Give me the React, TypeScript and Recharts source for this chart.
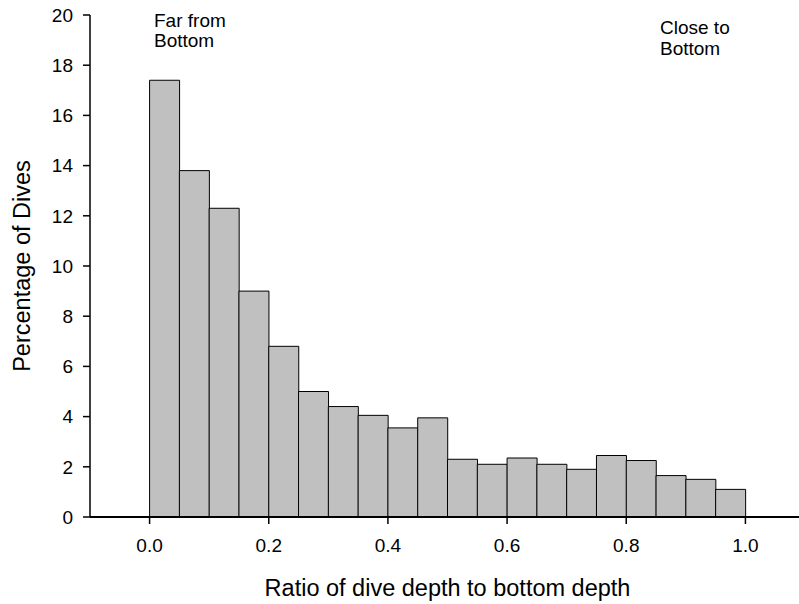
import React from "react";
import { BarChart, Bar, XAxis, YAxis } from "recharts";

// bin lower edges (width 0.05), padded with empty bins so the axis runs -0.1 .. 1.1
const binStarts = [
  "-0.10", "-0.05", "0.00", "0.05", "0.10", "0.15", "0.20", "0.25", "0.30", "0.35", "0.40", "0.45",
  "0.50", "0.55", "0.60", "0.65", "0.70", "0.75", "0.80", "0.85", "0.90", "0.95", "1.00", "1.05",
];
const percentages = [
  null, null, 17.4, 13.8, 12.3, 9.0, 6.8, 5.0, 4.4, 4.05, 3.55, 3.95,
  2.3, 2.1, 2.35, 2.1, 1.9, 2.45, 2.25, 1.65, 1.5, 1.1, null, null,
];
const xTicks = [0, 0.2, 0.4, 0.6, 0.8, 1.0];
const yTicks = [0, 2, 4, 6, 8, 10, 12, 14, 16, 18, 20];

const data = binStarts.map((b, i) => ({
  bin: b,
  mid: parseFloat(b) + 0.025,
  pct: percentages[i],
}));

const FONT = "'Liberation Sans', Arial, sans-serif";

const App = () => {
  return (
    <div style={{ position: "absolute", left: 0, top: 0, width: 799, height: 604, overflow: "hidden", fontFamily: FONT }}>
      <BarChart
        width={805}
        height={604}
        data={data}
        margin={{ top: 15, right: 0, bottom: 0, left: 0 }}
        barCategoryGap={0}
        barGap={0}
      >
        {/* hidden band axis just to lay the bins out edge to edge */}
        <XAxis xAxisId="bins" dataKey="bin" type="category" height={0} hide />
        <XAxis
          xAxisId="num"
          dataKey="mid"
          type="number"
          domain={[-0.1, 1.1]}
          ticks={xTicks}
          allowDataOverflow
          height={87}
          tickFormatter={(v: number) => v.toFixed(1)}
          tick={{ fill: "#000", fontSize: 19, fontFamily: FONT }}
          tickSize={7}
          tickMargin={15}
          tickLine={{ stroke: "#000", strokeWidth: 1.5 }}
          axisLine={{ stroke: "#000", strokeWidth: 2 }}
          label={{
            value: "Ratio of dive depth to bottom depth",
            position: "insideBottom",
            offset: 8,
            style: { fill: "#000", fontSize: 23.5, fontFamily: FONT },
          }}
        />
        <YAxis
          domain={[0, 20]}
          ticks={yTicks}
          width={90}
          tick={{ fill: "#000", fontSize: 19, fontFamily: FONT }}
          tickSize={7}
          tickMargin={10}
          tickLine={{ stroke: "#000", strokeWidth: 1.5 }}
          axisLine={{ stroke: "#000", strokeWidth: 1.5 }}
          label={{
            value: "Percentage of Dives",
            angle: -90,
            position: "insideLeft",
            offset: 22,
            style: { fill: "#000", fontSize: 23.5, fontFamily: FONT, textAnchor: "middle" },
          }}
        />
        <Bar
          xAxisId="bins"
          dataKey="pct"
          fill="#c0c0c0"
          stroke="#000"
          strokeWidth={1}
          isAnimationActive={false}
        />
      </BarChart>
      <svg
        width={799}
        height={604}
        style={{ position: "absolute", left: 0, top: 0, pointerEvents: "none" }}
      >
        <text x={154} y={27} fontSize={19} fontFamily={FONT} fill="#000">Far from</text>
        <text x={154} y={47} fontSize={19} fontFamily={FONT} fill="#000">Bottom</text>
        <text x={660} y={34} fontSize={19} fontFamily={FONT} fill="#000">Close to</text>
        <text x={660} y={55} fontSize={19} fontFamily={FONT} fill="#000">Bottom</text>
      </svg>
    </div>
  );
};

export default App;
